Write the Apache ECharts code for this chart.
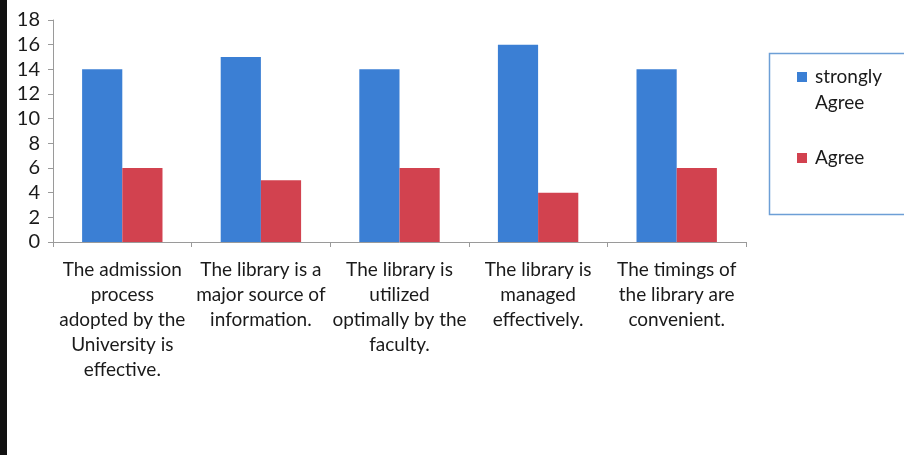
<!DOCTYPE html>
<html><head><meta charset="utf-8">
<script src="https://cdn.jsdelivr.net/npm/echarts@6/dist/echarts.min.js"></script>
<style>html,body{margin:0;padding:0;background:#fff}#c{width:904px;height:455px}</style>
</head><body><div id="c"></div>
<script>
const categories = [
  "The admission\nprocess\nadopted by the\nUniversity is\neffective.",
  "The library is a\nmajor source of\ninformation.",
  "The library is\nutilized\noptimally by the\nfaculty.",
  "The library is\nmanaged\neffectively.",
  "The timings of\nthe library are\nconvenient."
];
const stronglyAgree = [14, 15, 14, 16, 14];
const agree = [6, 5, 6, 4, 6];
const yTicks = [0, 18, 2];

const font = "Lato, 'Open Sans', sans-serif";
const chart = echarts.init(document.getElementById('c'));
chart.setOption({
  animation: false,
  backgroundColor: '#fff',
  textStyle: { fontFamily: font },
  grid: { left: 53, right: 158, top: 20, bottom: 213 },
  xAxis: {
    type: 'category', data: categories,
    axisLine: { lineStyle: { color: '#9a9a9a', width: 1 } },
    axisTick: { show: true, length: 5, lineStyle: { color: '#9a9a9a' } },
    axisLabel: { interval: 0, margin: 15, fontSize: 19, lineHeight: 25, color: '#1a1a1a', fontFamily: font }
  },
  yAxis: {
    type: 'value', min: yTicks[0], max: yTicks[1], interval: yTicks[2],
    axisLine: { show: true, lineStyle: { color: '#9a9a9a', width: 1 } },
    axisTick: { show: true, length: 5, lineStyle: { color: '#9a9a9a' } },
    splitLine: { show: false },
    axisLabel: { fontSize: 20, color: '#1a1a1a', margin: 13, fontFamily: font }
  },
  legend: {
    orient: 'vertical', left: 797, top: 38, padding: 0,
    itemWidth: 10, itemHeight: 10, itemGap: 29,
    icon: 'rect',
    textStyle: { fontSize: 19, lineHeight: 26, color: '#1a1a1a', fontFamily: font, padding: [0, 0, 0, 3] },
    formatter: function (n) { return n === 'strongly Agree' ? '\nstrongly\nAgree' : n; },
    data: ['strongly Agree', 'Agree']
  },
  graphic: [
    { type: 'rect', left: 0, top: 0, shape: { width: 7, height: 455 }, style: { fill: '#111' } },
    { type: 'rect', left: 767, top: 51, shape: { width: 200, height: 161 }, style: { fill: 'none', stroke: '#6d9fd6', lineWidth: 1.5 } }
  ],
  series: [
    { name: 'strongly Agree', type: 'bar', data: stronglyAgree, itemStyle: { color: '#3b7fd4' }, barGap: '0%', barCategoryGap: '42%' },
    { name: 'Agree', type: 'bar', data: agree, itemStyle: { color: '#d2424f' } }
  ]
});
</script></body></html>
